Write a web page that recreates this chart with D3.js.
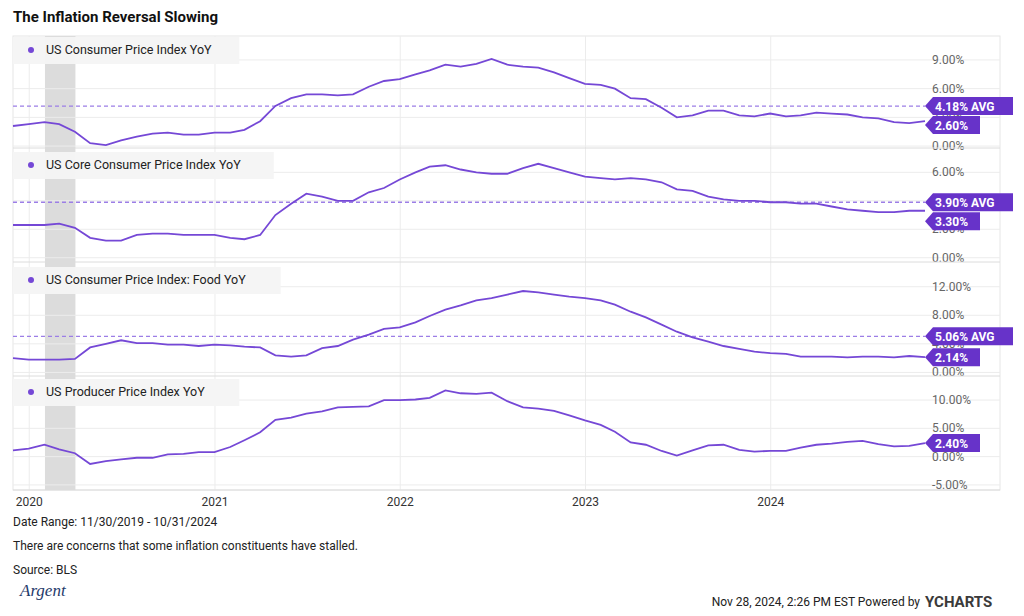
<!DOCTYPE html>
<html><head><meta charset="utf-8">
<script src="https://cdn.jsdelivr.net/npm/d3@7"></script>
<style>body{margin:0;background:#fff;font-family:Roboto,sans-serif}</style>
</head><body><svg id="chart" width="1024" height="616"></svg>
<script>
// monthly values, Nov 2019 - Oct 2024
const cpi = [2.1,2.3, 2.5,2.3,1.5,0.3,0.1,0.6,1.0,1.3,1.4,1.2,1.2,1.4, 1.4,1.7,2.6,4.2,5.0,5.4,5.4,5.3,5.4,6.2,6.8,7.0,
  7.5,7.9,8.5,8.3,8.6,9.1,8.5,8.3,8.2,7.7,7.1,6.5, 6.4,6.0,5.0,4.9,4.0,3.0,3.2,3.7,3.7,3.2,3.1,3.4, 3.1,3.2,3.5,3.4,3.3,3.0,2.9,2.5,2.4,2.6];
const coreCpi = [2.3,2.3, 2.3,2.4,2.1,1.4,1.2,1.2,1.6,1.7,1.7,1.6,1.6,1.6, 1.4,1.3,1.6,3.0,3.8,4.5,4.3,4.0,4.0,4.6,4.9,5.5,
  6.0,6.4,6.5,6.2,6.0,5.9,5.9,6.3,6.6,6.3,6.0,5.7, 5.6,5.5,5.6,5.5,5.3,4.8,4.7,4.3,4.1,4.0,4.0,3.9, 3.9,3.8,3.8,3.6,3.4,3.3,3.2,3.2,3.3,3.3];
const foodCpi = [2.0,1.8, 1.8,1.8,1.9,3.5,4.0,4.5,4.1,4.1,3.9,3.9,3.7,3.9, 3.8,3.6,3.5,2.4,2.2,2.4,3.4,3.7,4.6,5.3,6.1,6.3,
  7.0,7.9,8.8,9.4,10.1,10.4,10.9,11.4,11.2,10.9,10.6,10.4, 10.1,9.5,8.5,7.7,6.7,5.7,4.9,4.3,3.7,3.3,2.9,2.7, 2.6,2.2,2.2,2.2,2.1,2.2,2.2,2.1,2.3,2.14];
const ppi = [1.1,1.4, 2.1,1.3,0.6,-1.3,-0.8,-0.5,-0.2,-0.2,0.4,0.5,0.8,0.8, 1.7,2.9,4.3,6.5,6.9,7.6,8.0,8.7,8.8,8.9,10.0,10.0,
  10.1,10.4,11.7,11.2,11.1,11.3,9.8,8.7,8.5,8.1,7.3,6.4, 5.6,4.4,2.5,2.1,1.0,0.2,1.1,2.0,2.1,1.2,0.9,1.0, 1.0,1.6,2.1,2.3,2.6,2.8,2.2,1.8,1.9,2.4];
const seriesNames = ["US Consumer Price Index YoY","US Core Consumer Price Index YoY","US Consumer Price Index: Food YoY","US Producer Price Index YoY"];
const averages = [4.18, 3.90, 5.06, null];
const lastLabels = ["2.60%","3.30%","2.14%","2.40%"];
const yTicks = [[0,3,6,9],[0,2,4,6],[0,4,8,12],[-5,0,5,10]];
const yDomains = [[-0.2,11.5],[-0.3,7.5],[-0.5,14.9],[-5.9,13.9]];
const yearTicks = [2020,2021,2022,2023,2024];
const recession = [new Date(2020,1,1), new Date(2020,3,1)];

const dates = cpi.map((_, i) => new Date(2019, 10 + i + 1, 0));
const allSeries = [cpi, coreCpi, foodCpi, ppi];
const purple = "#7548d6", tagColor = "#6733c9";
const svg = d3.select("#chart");
const L = 13, R = 925;
const panels = [[36,148],[151,262],[266,376],[378,490]];

const x = d3.scaleTime().domain([new Date(2019,10,30), new Date(2024,9,31)]).range([L, R]);

svg.append("text").attr("x",13).attr("y",22).attr("font-size",15).attr("font-weight","bold").attr("fill","#111").text("The Inflation Reversal Slowing");

svg.append("rect").attr("x",L).attr("y",36).attr("width",1000-L).attr("height",454).attr("fill","none").attr("stroke","#e6e6e6");

// recession band
svg.append("rect").attr("x",x(recession[0])).attr("y",36).attr("width",x(recession[1])-x(recession[0])).attr("height",454).attr("fill","#dcdcdc");

yearTicks.forEach(yr => {
  svg.append("line").attr("x1",x(new Date(yr,0,1))).attr("x2",x(new Date(yr,0,1))).attr("y1",36).attr("y2",490).attr("stroke","#ececec");
  svg.append("text").attr("x",x(new Date(yr,0,1))).attr("y",506).attr("text-anchor","middle").attr("font-size",12).attr("fill","#333").text(yr);
});

allSeries.forEach((vals, p) => {
  const [top, bot] = panels[p];
  const y = d3.scaleLinear().domain(yDomains[p]).range([bot, top]);
  const g = svg.append("g");
  yTicks[p].forEach(t => {
    g.append("line").attr("x1",L).attr("x2",1000).attr("y1",y(t)).attr("y2",y(t)).attr("stroke","#ececec");
    g.append("text").attr("x",932).attr("y",y(t)+4).attr("font-size",12).attr("fill","#666").text(t.toFixed(2)+"%");
  });
  g.append("line").attr("x1",L).attr("x2",1000).attr("y1",bot).attr("y2",bot).attr("stroke","#dcdcdc");
  const lw = seriesNames[p].length * 6.9 + 40;
  g.append("rect").attr("x",L).attr("y",top+1).attr("width",lw).attr("height",27).attr("fill","#f4f4f4").attr("opacity",0.95);
  g.append("circle").attr("cx",31).attr("cy",top+14).attr("r",3).attr("fill",purple);
  g.append("text").attr("x",46).attr("y",top+18).attr("font-size",12.5).attr("fill","#222").text(seriesNames[p]);

  if (averages[p] != null) {
    g.append("line").attr("x1",L).attr("x2",R).attr("y1",y(averages[p])).attr("y2",y(averages[p]))
      .attr("stroke","#9c7ee6").attr("stroke-width",1.3).attr("stroke-dasharray","4,3");
  }
  g.append("path").datum(vals).attr("fill","none").attr("stroke",purple).attr("stroke-width",1.8)
    .attr("d", d3.line().x((d,i) => x(dates[i])).y(d => y(d)));

  const tag = (yc, txt, w) => {
    g.append("path").attr("fill",tagColor)
      .attr("d",`M${R},${yc} L${R+8},${yc-9} L${R+w},${yc-9} L${R+w},${yc+9} L${R+8},${yc+9} Z`);
    g.append("text").attr("x",R+10).attr("y",yc+4.5).attr("font-size",12).attr("font-weight","bold").attr("fill","#fff").text(txt);
  };
  let yLast = y(vals[vals.length-1]);
  if (averages[p] != null) {
    const yAvg = y(averages[p]);
    if (yLast - yAvg < 19) yLast = yAvg + 19;
    tag(yAvg, averages[p].toFixed(2)+"% AVG", 88);
  }
  tag(yLast, lastLabels[p], 55);
});

svg.append("text").attr("x",13).attr("y",526).attr("font-size",12).attr("fill","#222").text("Date Range: 11/30/2019 - 10/31/2024");
svg.append("text").attr("x",13).attr("y",550).attr("font-size",12).attr("fill","#222").text("There are concerns that some inflation constituents have stalled.");
svg.append("text").attr("x",13).attr("y",574).attr("font-size",12).attr("fill","#222").text("Source: BLS");
svg.append("text").attr("x",20).attr("y",596).attr("font-size",17).attr("font-style","italic").attr("font-family","Liberation Serif, serif").attr("fill","#1f3a6b").text("Argent");
svg.append("text").attr("x",920).attr("y",606).attr("text-anchor","end").attr("font-size",12).attr("fill","#222").text("Nov 28, 2024, 2:26 PM EST Powered by");
svg.append("text").attr("x",925).attr("y",607).attr("font-size",15).attr("font-weight","bold").attr("fill","#3a3a3a").text("YCHARTS");
</script></body></html>
